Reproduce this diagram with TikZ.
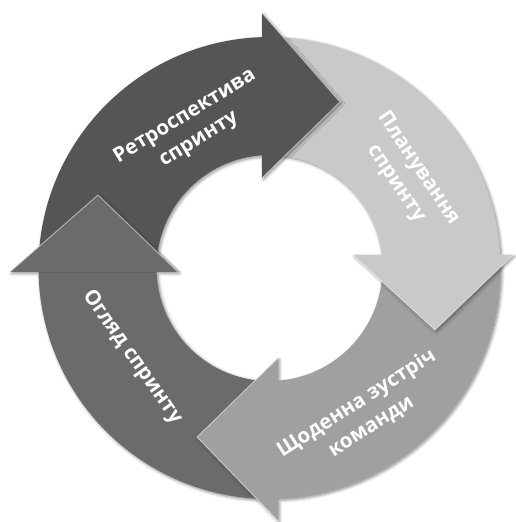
\documentclass[tikz,border=0pt]{standalone}
\usepackage{fontspec}
\newfontfamily\lab{Open Sans}
\usetikzlibrary{shadows.blur}
\definecolor{cDark}{HTML}{555555}
\definecolor{cLight}{HTML}{C9C9C9}
\definecolor{cMed}{HTML}{A0A0A0}
\definecolor{cLeft}{HTML}{6B6B6B}
\begin{document}
\begin{tikzpicture}[x=1pt,y=1pt,
  arrowbody/.style={blur shadow={shadow xshift=1.5pt,shadow yshift=-1.5pt,shadow blur radius=3pt,shadow opacity=45,shadow blur steps=6}},
  bevel/.style={draw=white,draw opacity=0.5,line width=1pt},
  lbl/.style={text=white,font=\lab\bfseries\fontsize{20.5}{27}\selectfont,align=center,inner sep=0pt}]
\useasboundingbox (0,0) rectangle (515,522);
\begin{scope}[shift={(269.5,254)}]
% Огляд спринту (left)
\fill[cLeft,arrowbody] (270:231) arc[start angle=270,end angle=180.99,radius=231] -- (-259.5,-4) -- (-171.5,73) -- (-91.5,-4) -- (182.03:113) arc[start angle=182.03,end angle=270,radius=113] -- cycle;
% Щоденна зустріч команди (bottom right)
\fill[cMed,arrowbody] (2:231) arc[start angle=2,end angle=-87.89,radius=231] -- (8.5,-253) -- (-72.5,-169) -- (8.5,-90) -- (-85.69:113) arc[start angle=-85.69,end angle=2,radius=113] -- cycle;
\draw[bevel] (8.5,-253) -- (-72.5,-169) -- (8.5,-90);
% Планування спринту (top right)
\fill[cLight,arrowbody] (90:231) arc[start angle=90,end angle=3.23,radius=231] -- (243.5,13) -- (165.5,-62) -- (83.5,13) -- (6.61:113) arc[start angle=6.61,end angle=90,radius=113] -- cycle;
\draw[bevel] (243.5,13) -- (165.5,-62) -- (83.5,13);
% Ретроспектива спринту (top left)
\fill[cDark,arrowbody] (180:231) arc[start angle=180,end angle=91.86,radius=231] -- (-7.5,255) -- (70.5,166) -- (-7.5,90) -- (93.81:113) arc[start angle=93.81,end angle=180,radius=113] -- cycle;
\draw[bevel] (-7.5,255) -- (70.5,166) -- (-7.5,90);
% head of the left arrow over the tail of the dark arrow
\begin{scope}
\clip (-300,-4) rectangle (0,120);
\fill[cLeft,arrowbody] (-259.5,-4) -- (-171.5,73) -- (-91.5,-4) -- cycle;
\end{scope}
\draw[bevel] (-259.5,-4) -- (-171.5,73) -- (-91.5,-4);
% labels
\node[lbl,rotate=31.5] (retro) at (-77.5,140) {Ретроспектива\\спринту};
\node[lbl,rotate=-56] (plan) at (137.5,92) {Планування\\спринту};
\node[lbl,rotate=32.5] (daily) at (94.5,-147) {Щоденна зустріч\\команди};
\node[lbl,rotate=-55] (review) at (-137.5,-89) {Огляд спринту};
\end{scope}
\end{tikzpicture}
\end{document}
